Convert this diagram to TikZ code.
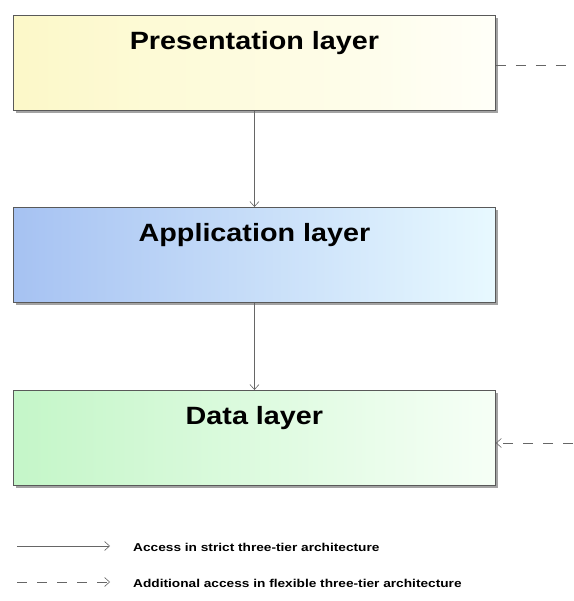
\documentclass[tikz,border=0pt]{standalone}
\usepackage{fontspec}
\setmainfont{Liberation Sans}
\newfontfamily\widesans[FakeStretch=1.15]{Liberation Sans}
\newfontfamily\widesmall[FakeStretch=1.2]{Liberation Sans}
\usetikzlibrary{arrows.meta,shadows,calc}

\definecolor{presL}{HTML}{FCF8C8}
\definecolor{presR}{HTML}{FFFFF8}
\definecolor{appL}{HTML}{A6C2F2}
\definecolor{appR}{HTML}{E8F9FF}
\definecolor{dataL}{HTML}{C4F6C8}
\definecolor{dataR}{HTML}{F6FFF6}

\tikzset{
  x=1pt, y=1pt,
  layer/.style={draw=black!65, line width=0.9pt, minimum width=482pt, minimum height=95pt,
    inner sep=0pt, anchor=north west,
    drop shadow={shadow xshift=3pt, shadow yshift=-3pt, fill=black!45, opacity=0.8}},
  title/.style={font=\widesans\bfseries\fontsize{25}{28}\selectfont, inner sep=0pt},
  legendtext/.style={font=\widesmall\bfseries\fontsize{11.4}{13}\selectfont, anchor=west, inner sep=0pt},
  link/.style={draw=black!60, line width=0.6pt},
  access/.style={link, -{Straight Barb[length=5pt,width=9pt]}},
  dashedlink/.style={link, dash pattern=on 10pt off 10pt},
  extra/.style={access, dash pattern=on 10pt off 10pt},
}

\begin{document}
\begin{tikzpicture}
  \useasboundingbox (0,0) rectangle (573,601);

  % the three tiers
  \node[layer, left color=presL, right color=presR] (pres) at (13,586) {};
  \node[layer, left color=appL, right color=appR] (app) at (13,394) {};
  \node[layer, left color=dataL, right color=dataR] (data) at (13,211) {};

  \node[title] (presT) at ($(pres.north)+(0,-28)$) {Presentation layer};
  \node[title] (appT) at ($(app.north)+(0,-28)$) {Application layer};
  \node[title] (dataT) at ($(data.north)+(0,-28)$) {Data layer};

  % strict access between neighbouring tiers
  \draw[access] (pres.south) -- (app.north);
  \draw[access] (app.south) -- (data.north);

  % flexible access bypassing the middle tier
  \coordinate (outP) at (573,536);
  \coordinate (outD) at (573,158);
  \draw[dashedlink] (pres.east |- outP) -- (outP);
  \draw[extra] (outD) -- (data.east |- outD);

  % legend
  \coordinate (l1a) at (17,55);
  \coordinate (l1b) at (110,55);
  \coordinate (l2a) at (17,19);
  \coordinate (l2b) at (110,19);
  \draw[access] (l1a) -- (l1b);
  \draw[extra] (l2a) -- (l2b);
  \node[legendtext] (lt1) at (133,54) {Access in strict three-tier architecture};
  \node[legendtext] (lt2) at (133,18) {Additional access in flexible three-tier architecture};
\end{tikzpicture}
\end{document}
